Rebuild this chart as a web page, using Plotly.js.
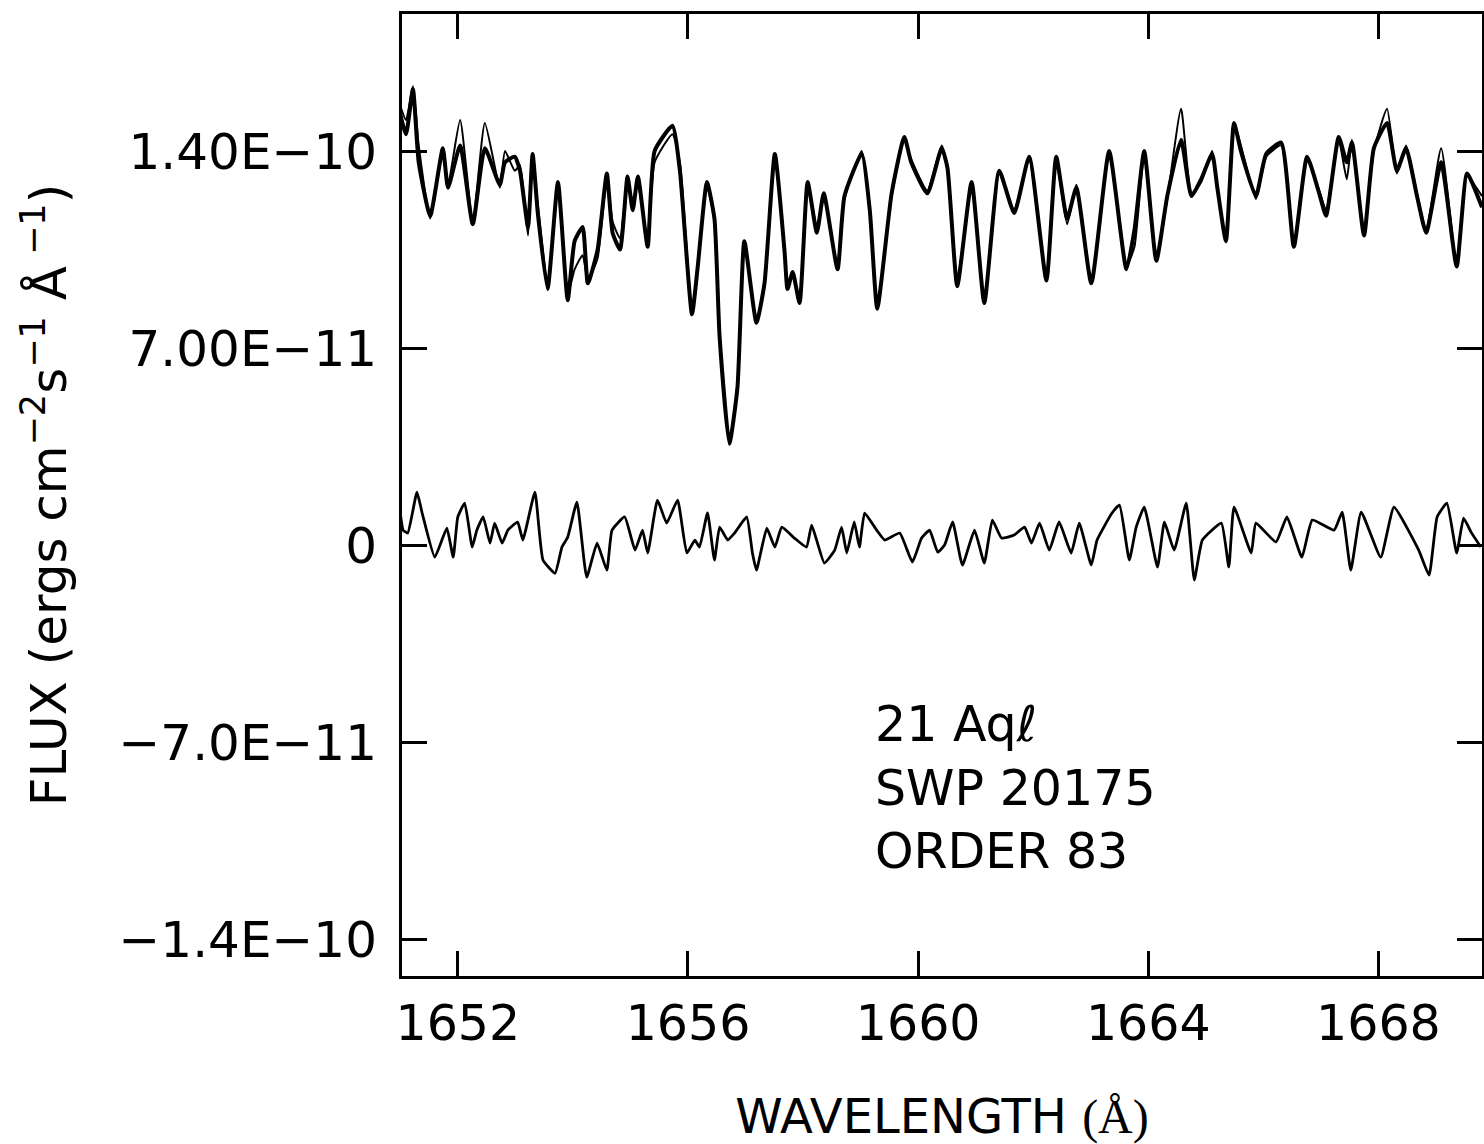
<!DOCTYPE html>
<html>
<head>
<meta charset="utf-8">
<script src="https://cdn.plot.ly/plotly-3.0.1.min.js"></script>
<style>
html,body{margin:0;padding:0;background:#fff;overflow:hidden;}
#chart{width:1484px;height:1144px;}
</style>
</head>
<body>
<div id="chart"></div>
<script>
// Wavelength grid (Å) for the upper spectra
const waveUpper = [1651.00,1651.10,1651.22,1651.32,1651.52,1651.74,1651.83,1652.04,1652.26,1652.47,
1652.73,1652.82,1652.99,1653.08,1653.22,1653.30,1653.39,1653.56,1653.74,1653.91,
1654.03,1654.17,1654.26,1654.43,1654.59,1654.69,1654.82,1654.95,1655.04,1655.13,
1655.30,1655.42,1655.73,1655.86,1656.07,1656.17,1656.33,1656.46,1656.55,1656.72,
1656.86,1656.98,1657.19,1657.33,1657.51,1657.68,1657.73,1657.82,1657.94,1658.08,
1658.24,1658.36,1658.60,1658.72,1659.02,1659.16,1659.29,1659.54,1659.76,1659.88,
1660.16,1660.41,1660.51,1660.68,1660.93,1661.15,1661.41,1661.67,1661.93,1662.23,
1662.40,1662.59,1662.75,1663.01,1663.32,1663.62,1663.76,1663.93,1664.14,1664.33,
1664.57,1664.75,1664.92,1665.11,1665.20,1665.35,1665.49,1665.61,1665.87,1666.05,
1666.31,1666.53,1666.76,1666.97,1667.09,1667.31,1667.45,1667.54,1667.75,1667.92,
1668.15,1668.32,1668.48,1668.67,1668.83,1669.09,1669.36,1669.54,1669.80];

// Flux, units of 1e-11 erg cm^-2 s^-1 Å^-1 : spectrum 1 (heavy)
const fluxA_e11 = [15.3,14.6,16.2,13.6,11.7,14.1,12.7,14.2,11.4,14.1,
12.8,13.6,13.8,13.3,11.3,13.9,11.8,9.1,12.9,8.7,
10.8,11.3,9.3,10.5,13.2,11.1,10.5,13.1,11.9,13.1,
10.6,14.0,14.9,13.3,8.2,9.9,12.9,11.6,7.4,3.6,
5.6,10.8,7.9,9.3,13.9,10.4,9.1,9.7,8.6,12.9,
11.1,12.5,9.8,12.4,13.9,11.9,8.4,12.5,14.5,13.6,
12.5,14.1,13.4,9.2,12.9,8.6,13.3,11.8,13.8,9.4,
13.8,11.6,12.7,9.3,14.0,9.8,11.2,14.0,10.1,12.4,
14.4,12.4,13.0,13.9,12.7,10.8,15.0,14.0,12.4,13.9,
14.3,10.6,13.8,12.5,11.7,14.5,13.6,14.3,11.0,14.1,
15.0,13.3,14.1,12.4,11.1,13.6,9.9,13.2,12.0];

// spectrum 2 (light)
const fluxB_e11 = [15.6,15.1,16.3,14.2,11.6,14.0,12.8,15.1,11.5,15.0,
12.7,14.0,13.3,13.5,11.0,13.8,12.1,9.3,12.8,8.9,
9.8,10.3,9.4,10.2,13.1,11.5,10.9,12.9,12.2,12.8,
10.8,13.6,14.6,13.6,8.3,9.8,12.8,11.5,7.5,3.7,
5.7,10.7,8.0,9.2,13.8,10.5,9.2,9.6,8.7,12.8,
11.3,12.4,9.9,12.3,14.0,11.8,8.5,12.4,14.4,13.7,
12.6,14.2,13.3,9.4,12.8,8.7,13.2,11.9,13.7,9.5,
13.7,11.4,12.8,9.4,13.9,9.9,10.6,13.9,10.2,12.3,
15.5,12.5,12.9,14.0,12.6,10.9,15.0,14.2,12.3,13.8,
14.2,10.7,13.7,12.6,11.9,14.4,13.0,14.4,11.1,14.0,
15.5,13.2,14.2,12.5,11.2,14.1,10.0,13.1,12.4];

// Difference spectrum
const waveDiff = [1651.00,1651.05,1651.13,1651.29,1651.38,1651.60,1651.81,1651.92,1652.00,1652.12,
1652.25,1652.33,1652.44,1652.56,1652.64,1652.77,1652.87,1653.04,1653.13,1653.34,
1653.48,1653.69,1653.81,1653.91,1654.07,1654.24,1654.42,1654.59,1654.68,1654.90,
1655.08,1655.21,1655.30,1655.47,1655.63,1655.82,1655.98,1656.12,1656.20,1656.34,
1656.46,1656.55,1656.69,1656.81,1657.02,1657.12,1657.19,1657.37,1657.51,1657.63,
1657.85,1658.06,1658.15,1658.37,1658.55,1658.67,1658.76,1658.89,1658.98,1659.07,
1659.28,1659.42,1659.68,1659.90,1660.06,1660.20,1660.34,1660.46,1660.60,1660.77,
1660.98,1661.15,1661.29,1661.45,1661.67,1661.85,1661.97,1662.11,1662.28,1662.45,
1662.66,1662.80,1663.01,1663.11,1663.37,1663.50,1663.67,1663.79,1663.93,1664.16,
1664.28,1664.45,1664.66,1664.80,1664.94,1665.27,1665.40,1665.49,1665.79,1665.87,
1666.22,1666.41,1666.67,1666.85,1667.23,1667.37,1667.52,1667.70,1668.04,1668.27,
1668.70,1668.88,1669.02,1669.19,1669.36,1669.48,1669.61,1669.78];

const fluxDiff_e11 = [1.14,0.53,0.43,1.88,1.14,-0.43,0.60,-0.43,1.00,1.49,
-0.07,0.53,1.00,0.07,0.78,0.07,0.53,0.82,0.18,1.88,
-0.53,-1.00,-0.07,0.28,1.53,-1.14,0.07,-0.89,0.53,1.00,
-0.18,0.53,-0.28,1.60,0.78,1.60,-0.28,0.18,-0.07,1.14,
-0.53,0.64,0.18,0.43,1.00,-0.28,-0.89,0.60,-0.07,0.64,
0.25,-0.07,0.71,-0.64,-0.18,0.64,-0.28,0.82,-0.07,1.14,
0.53,0.18,0.43,-0.60,0.25,0.53,-0.25,0.00,0.82,-0.71,
0.53,-0.64,0.89,0.25,0.36,0.64,0.07,0.78,-0.18,0.82,
-0.28,0.78,-0.71,0.18,1.14,1.42,-0.53,0.64,1.35,-0.78,
0.82,-0.18,1.49,-1.24,0.18,0.78,-0.78,1.35,-0.28,0.78,
0.11,1.00,-0.43,0.89,0.53,1.17,-0.89,1.17,-0.43,1.35,
-0.18,-1.07,1.00,1.49,-0.28,0.96,0.46,-0.07];

// Axis ticks
const xTickVals = [1652,1656,1660,1664,1668];
const xTickText = ["1652","1656","1660","1664","1668"];
const yTickVals = [1.4e-10,7e-11,0,-7e-11,-1.4e-10];
const yTickText = ["1.40E\u221210","7.00E\u221211","0","\u22127.0E\u221211","\u22121.4E\u221210"];

const labelLines = ["21 Aq\u2113","SWP 20175","ORDER 83"];

const toFlux = a => a.map(v => v * 1e-11);

const traces = [
  {x: waveUpper, y: toFlux(fluxB_e11), type:'scatter', mode:'lines',
   line:{color:'#000', width:2, shape:'spline', smoothing:0.5}, hoverinfo:'skip', showlegend:false},
  {x: waveUpper, y: toFlux(fluxA_e11), type:'scatter', mode:'lines',
   line:{color:'#000', width:4, shape:'spline', smoothing:0.5}, hoverinfo:'skip', showlegend:false},
  {x: waveDiff, y: toFlux(fluxDiff_e11), type:'scatter', mode:'lines',
   line:{color:'#000', width:2.8, shape:'spline', smoothing:0.4}, hoverinfo:'skip', showlegend:false}
];

const font = "DejaVu Sans, Liberation Sans, Arial, sans-serif";

const layout = {
  width:1484, height:1144,
  margin:{l:402, r:2, t:14, b:168, pad:0},
  paper_bgcolor:'#fff', plot_bgcolor:'#fff',
  showlegend:false,
  font:{family:font, color:'#000', size:48},
  xaxis:{
    range:[1651.03,1669.8], tickvals:xTickVals, ticktext:xTickText,
    ticks:'inside', ticklen:25, tickwidth:3, tickcolor:'#000',
    showline:true, linewidth:3, linecolor:'#000', mirror:'ticks',
    showgrid:false, zeroline:false,
    tickfont:{family:font, size:49, color:'#000'},
    ticklabelstandoff:2,
    title:{text:'WAVELENGTH <span style="font-family:Liberation Serif">(Å)</span>', font:{family:font, size:48, color:'#000'}, standoff:49}
  },
  yaxis:{
    range:[-1.531e-10,1.887e-10], tickvals:yTickVals, ticktext:yTickText,
    ticks:'inside', ticklen:25, tickwidth:3, tickcolor:'#000',
    showline:true, linewidth:3, linecolor:'#000', mirror:'ticks',
    showgrid:false, zeroline:false,
    tickfont:{family:font, size:50, color:'#000'},
    ticklabelstandoff:12,
    title:{text:'FLUX (ergs cm<sup>\u22122</sup>s<sup>\u22121</sup> Å<sup> \u22121</sup>)', font:{family:font, size:50, color:'#000'}, standoff:36}
  },
  annotations:[{
    xref:'x', yref:'y', x:1659.22, y:-5.3e-11, xanchor:'left', yanchor:'top',
    text: labelLines.join('<br>'), align:'left', showarrow:false,
    font:{family:font, size:49, color:'#000'}
  }]
};

Plotly.newPlot('chart', traces, layout, {displayModeBar:false, staticPlot:true});
</script>
</body>
</html>
